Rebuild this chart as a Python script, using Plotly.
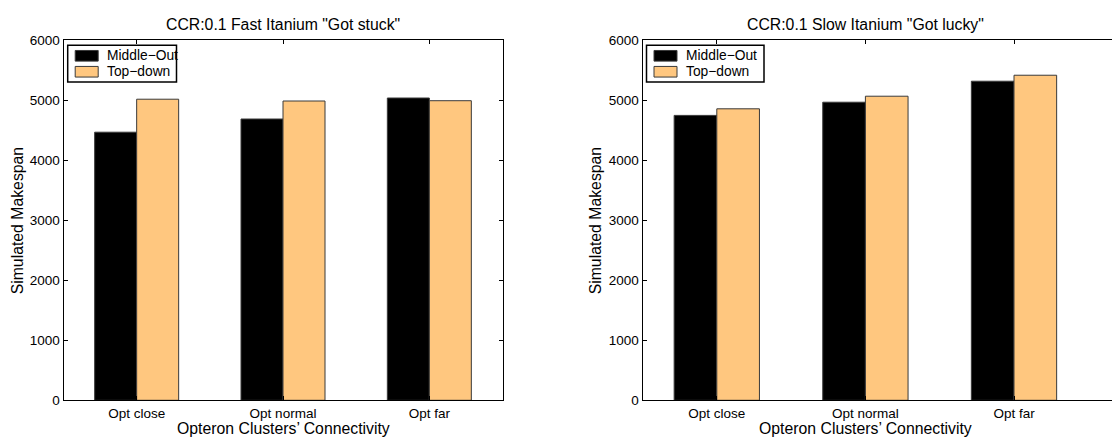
import plotly.graph_objects as go

categories = ["Opt close", "Opt normal", "Opt far"]
series_names = ["Middle\u2212Out", "Top\u2212down"]
left_middle_out = [4470, 4690, 5040]
left_top_down = [5020, 4990, 4995]
right_middle_out = [4750, 4970, 5320]
right_top_down = [4860, 5070, 5420]
titles = ['CCR:0.1 Fast Itanium "Got stuck"', 'CCR:0.1 Slow Itanium "Got lucky"']
y_ticks = [0, 1000, 2000, 3000, 4000, 5000, 6000]
x_title = "Opteron Clusters\u2019 Connectivity"
y_title = "Simulated Makespan"

W, H = 1112, 445
FONT = "Liberation Sans, Arial, Helvetica, sans-serif"
BLACK = "#000000"
ORANGE = "#FFC77F"
EDGE = "#3a3a3a"
TICK_SIZE = 13.5
LEG_SIZE = 13.8
TITLE_SIZE = 15.8

def px(x):
    return x / W

def py(y):
    return 1 - y / H

# plot areas in pixels
L_X0, L_X1 = 63.5, 502.5
R_X0 = 642.5
R_SPACING = 148.6
Y_TOP, Y_BOT = 34.6, 407.0

pos = [1, 2, 3]
bw = 0.287

fig = go.Figure()
for i, (mo, td) in enumerate([(left_middle_out, left_top_down), (right_middle_out, right_top_down)]):
    xa = "x" if i == 0 else "x2"
    ya = "y" if i == 0 else "y2"
    fig.add_trace(go.Bar(x=pos, y=mo, width=bw, offset=-bw, name=series_names[0],
                         marker=dict(color=BLACK, line=dict(color=EDGE, width=1)),
                         xaxis=xa, yaxis=ya, showlegend=False))
    fig.add_trace(go.Bar(x=pos, y=td, width=bw, offset=0, name=series_names[1],
                         marker=dict(color=ORANGE, line=dict(color=EDGE, width=1)),
                         xaxis=xa, yaxis=ya, showlegend=False))

tickfont = dict(family=FONT, size=TICK_SIZE, color="#000")
common_x = dict(tickmode="array", tickvals=pos, ticktext=categories, ticks="inside",
                ticklen=4, tickcolor="#000", showline=True, linecolor="#000", linewidth=1,
                showgrid=False, zeroline=False, tickfont=tickfont, fixedrange=True,
                ticklabelstandoff=1)
common_y = dict(tickmode="array", tickvals=y_ticks, ticktext=[str(v) for v in y_ticks],
                range=[0, 6000], ticks="inside", ticklen=4, tickcolor="#000", showline=True,
                linecolor="#000", linewidth=1, showgrid=False, zeroline=False,
                tickfont=tickfont, fixedrange=True)

r_end = 0.5 + (W - R_X0) / R_SPACING

fig.update_layout(
    width=W, height=H,
    margin=dict(l=0, r=0, t=0, b=0),
    paper_bgcolor="white", plot_bgcolor="white",
    barmode="overlay",
    font=dict(family=FONT, size=13, color="#000"),
    xaxis=dict(domain=[px(L_X0), px(L_X1)], range=[0.5, 3.5], mirror="ticks", anchor="y", **common_x),
    yaxis=dict(domain=[py(Y_BOT), py(Y_TOP)], mirror="ticks", anchor="x", **common_y),
    xaxis2=dict(domain=[px(R_X0), 1.0], range=[0.5, r_end], mirror="ticks", anchor="y2", **common_x),
    yaxis2=dict(domain=[py(Y_BOT), py(Y_TOP)], mirror=False, anchor="x2", **common_y),
    showlegend=False,
)

annotations = []
shapes = []
panels = [
    dict(x0=L_X0, x1=L_X1, leg_x0=67.7, leg_x1=176.5, title=titles[0], ytitle_x=17),
    dict(x0=R_X0, x1=R_X0 + 3 * R_SPACING, leg_x0=646.5, leg_x1=764, title=titles[1], ytitle_x=595),
]
for p in panels:
    cx = (p["x0"] + p["x1"]) / 2
    annotations.append(dict(x=px(cx), y=py(18), xref="paper", yref="paper", text=p["title"],
                            showarrow=False, xanchor="center", yanchor="middle",
                            font=dict(family=FONT, size=TITLE_SIZE, color="#000")))
    annotations.append(dict(x=px(cx), y=py(436), xref="paper", yref="paper", text=x_title,
                            showarrow=False, xanchor="center", yanchor="middle", borderpad=0,
                            font=dict(family=FONT, size=TITLE_SIZE, color="#000")))
    annotations.append(dict(x=px(p["ytitle_x"]), y=py((Y_TOP + Y_BOT) / 2), xref="paper", yref="paper",
                            text=y_title, textangle=-90, showarrow=False,
                            xanchor="center", yanchor="middle",
                            font=dict(family=FONT, size=TITLE_SIZE, color="#000")))
    # legend box
    lx0, lx1 = p["leg_x0"], p["leg_x1"]
    shapes.append(dict(type="rect", xref="paper", yref="paper", x0=px(lx0), x1=px(lx1),
                       y0=py(77.5), y1=py(39.5), line=dict(color="#000", width=1.5),
                       fillcolor="white", layer="above"))
    for j, (nm, col) in enumerate(zip(series_names, [BLACK, ORANGE])):
        yc = 50.5 + j * 16.5
        shapes.append(dict(type="rect", xref="paper", yref="paper", x0=px(lx0 + 7.5), x1=px(lx0 + 30.5),
                           y0=py(yc + 5.5), y1=py(yc - 5.5), line=dict(color=EDGE, width=1),
                           fillcolor=col, layer="above"))
        annotations.append(dict(x=px(lx0 + 37.5), y=py(yc), xref="paper", yref="paper", text=nm,
                                showarrow=False, xanchor="left", yanchor="middle",
                                font=dict(family=FONT, size=LEG_SIZE, color="#000")))

fig.update_layout(annotations=annotations, shapes=shapes)
fig.write_html("out.html", config={"displayModeBar": False})
